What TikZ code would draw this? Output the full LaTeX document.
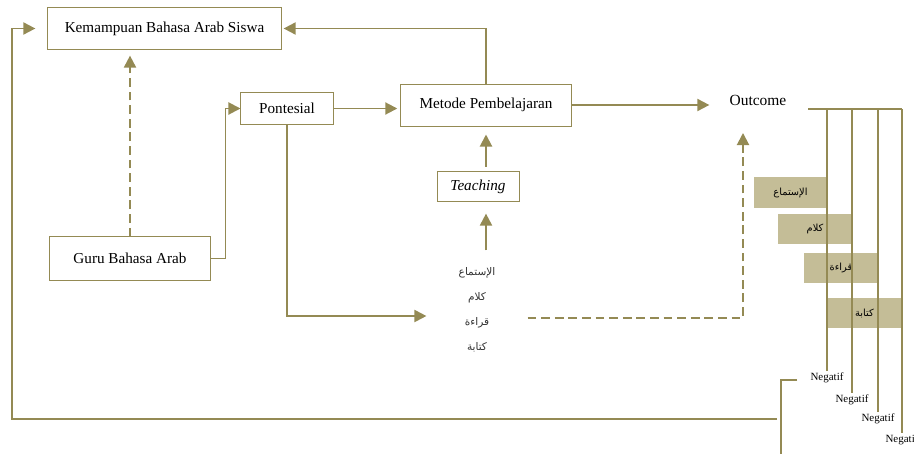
\documentclass[tikz,border=0pt]{standalone}
\usepackage{fontspec}
\setmainfont{Liberation Serif}
\newfontfamily\arabicfont[Script=Arabic]{DejaVu Sans}
\TeXXeTstate=1
\usetikzlibrary{arrows.meta}
\definecolor{olive}{HTML}{948A54}
\definecolor{tan}{HTML}{C4BD97}
\newcommand{\arab}[1]{{\arabicfont\beginR #1\endR}}

\begin{document}
\begin{tikzpicture}[x=0.025cm, y=-0.025cm,
  box/.style={draw=olive, line width=0.7pt, inner sep=0pt, font=\fontsize{10.8}{13}\selectfont},
  link/.style={draw=olive, line width=1.4pt},
  arr/.style={link, -{Triangle[length=0.3cm,width=0.3cm]}},
  dasharr/.style={arr, dash pattern=on 0.22cm off 0.12cm},
  skillbox/.style={fill=tan, minimum width=1.84cm, minimum height=0.76cm, inner sep=0pt, font=\fontsize{7}{8}\selectfont},
  neg/.style={inner sep=1pt, font=\fontsize{7.8}{9}\selectfont}]
\useasboundingbox (0,0) rectangle (914,454);

% Main boxes
\node[box, minimum width=5.83cm, minimum height=1.03cm] (kemampuan) at (164.5,28.5) {Kemampuan Bahasa Arab Siswa};
\node[box, minimum width=4cm, minimum height=1.08cm] (guru) at (130,258.5) {Guru Bahasa Arab};
\node[box, minimum width=2.3cm, minimum height=0.78cm] (pontesial) at (287,108.5) {Pontesial};
\node[box, minimum width=4.25cm, minimum height=1.05cm] (metode) at (486,105) {Metode Pembelajaran};
\node[box, minimum width=2.05cm, minimum height=0.73cm] (teaching) at (478,186.5) {\textit{Teaching}};
\node[inner sep=0pt, font=\fontsize{11}{13}\selectfont] (outcome) at (758,100) {Outcome};
\node[align=center, inner xsep=0.8cm, inner ysep=0.3cm, text=black!80, font=\fontsize{7.5}{17.9}\selectfont] (skills) at (477,310)
  {\arab{الإستماع}\\ \arab{كلام}\\ \arab{قراءة}\\ \arab{كتابة}};

% Arrows between the boxes
\draw[dasharr, shorten >=0.15cm] (guru.north) -- (guru.north |- kemampuan.south);
\draw[arr] (guru.east) -- ++(15,0) |- (pontesial.west);
\draw[arr, shorten >=0.08cm] (pontesial.east) -- (pontesial.east -| metode.west);
\draw[arr, shorten >=0.05cm] (metode.north) |- (kemampuan.east);
\draw[arr, shorten >=0.5cm] (metode.east) -- (metode.east -| outcome.west);
\draw[arr, shorten <=0.12cm, shorten >=0.2cm] (teaching.north -| metode) -- (metode.south);
\draw[arr, shorten >=0.3cm] ([yshift=0.12cm]skills.north -| metode) -- (teaching.south -| metode);
\draw[arr] (pontesial.south) |- ([yshift=-0.15cm]skills.west);
\coordinate (outcomein) at (743,133);
\draw[dasharr] ([yshift=-0.2cm]skills.east) -| (outcomein);

% Loop back to the top box
\coordinate (loopfoot) at (777,419);
\draw[arr, shorten >=0.3cm] (loopfoot) -- ++(-765,0) |- (kemampuan.west);
\draw[link] (797,380) -| (781,454);

% Outcome branches
\node[skillbox] (sk1) at (790.5,192.5) {\arab{الإستماع}};
\node[skillbox] (sk2) at (815,229) {\arab{كلام}};
\node[skillbox] (sk3) at (841,268) {\arab{قراءة}};
\node[skillbox] (sk4) at (864.5,313) {\arab{كتابة}};
\node[neg] (neg1) at (827,378) {Negatif};
\node[neg] (neg2) at (852,400) {Negatif};
\node[neg] (neg3) at (878,419) {Negatif};
\node[neg] (neg4) at (902,440) {Negatif};
\coordinate (bar) at (808,109);
\draw[link, line width=1.2pt] (bar) -- (902,109);
\foreach \n in {1,...,4}
  \draw[link, line width=1.2pt] (neg\n.north |- bar) -- (neg\n.north);
\end{tikzpicture}
\end{document}
